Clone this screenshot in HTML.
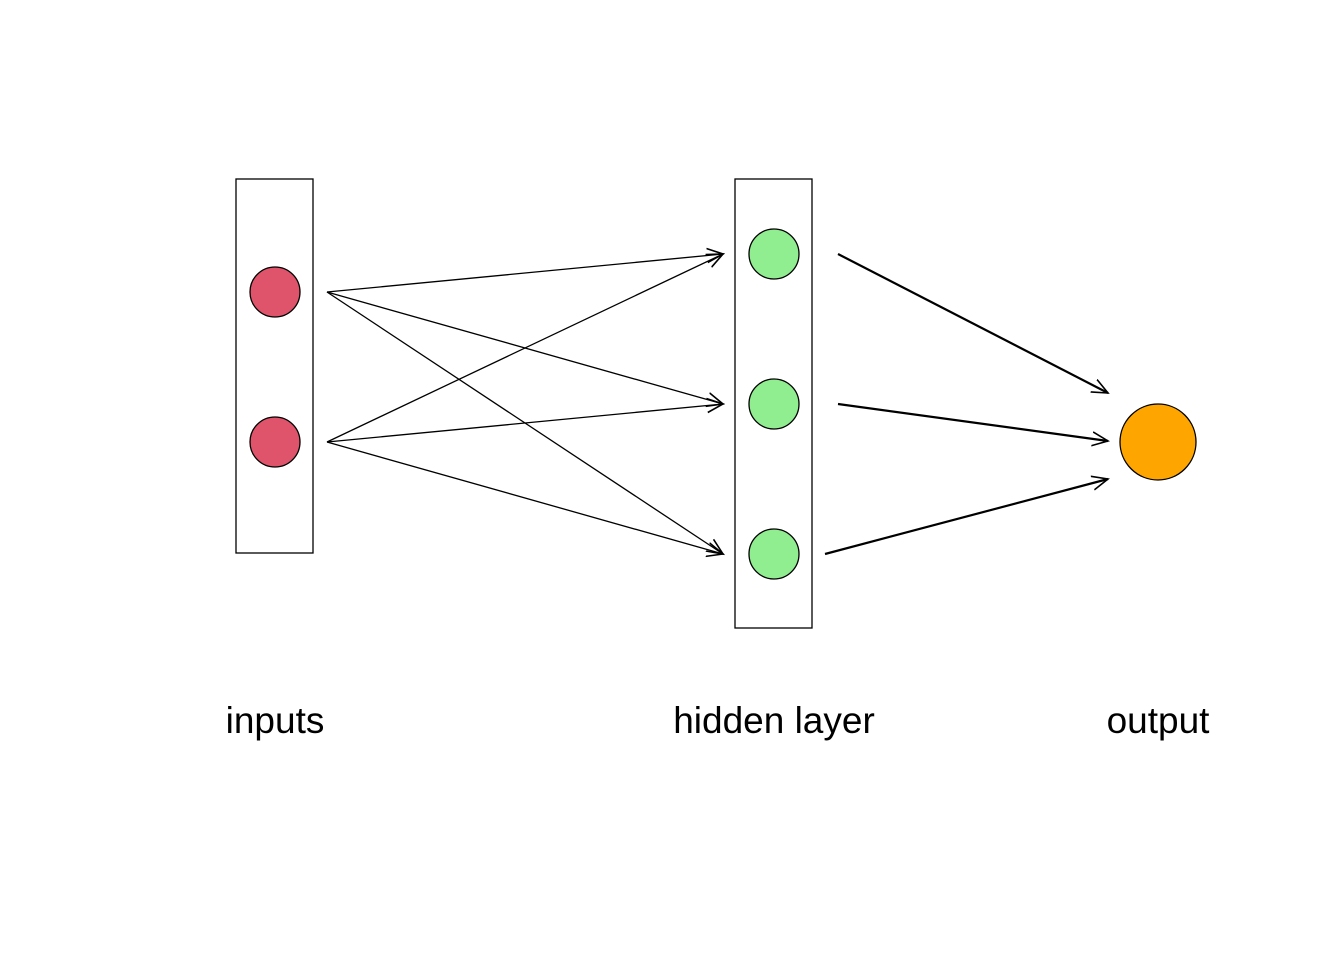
<!DOCTYPE html>
<html><head><meta charset="utf-8"><style>
html,body{margin:0;padding:0;background:#fff;}
svg{display:block;}
text{font-family:"Liberation Sans",sans-serif;font-size:37px;fill:#000;}
</style></head><body>
<svg width="1344" height="960" viewBox="0 0 1344 960" xmlns="http://www.w3.org/2000/svg">
<defs>
<marker id="a" markerWidth="20" markerHeight="20" refX="16" refY="8" orient="auto" markerUnits="userSpaceOnUse">
<path d="M0,1 L16,8 L0,15" fill="none" stroke="#000" stroke-width="1.6"/>
</marker>
</defs>
<rect x="236" y="179" width="77" height="374" fill="none" stroke="#000" stroke-width="1.3"/>
<rect x="735" y="179" width="77" height="449" fill="none" stroke="#000" stroke-width="1.3"/>
<g stroke="#000" stroke-width="1.3" fill="none" marker-end="url(#a)">
<line x1="327" y1="292" x2="723" y2="254"/>
<line x1="327" y1="292" x2="723" y2="404"/>
<line x1="327" y1="292" x2="723" y2="554"/>
<line x1="327" y1="442" x2="723" y2="254"/>
<line x1="327" y1="442" x2="723" y2="404"/>
<line x1="327" y1="442" x2="723" y2="554"/>
</g>
<g stroke="#000" stroke-width="2.2" fill="none" marker-end="url(#a)">
<line x1="838" y1="254" x2="1108" y2="393"/>
<line x1="838" y1="404" x2="1108" y2="441"/>
<line x1="825" y1="554" x2="1108" y2="479"/>
</g>
<g stroke="#000" stroke-width="1.3">
<circle cx="275" cy="292" r="25" fill="#DF536B"/>
<circle cx="275" cy="442" r="25" fill="#DF536B"/>
<circle cx="774" cy="254" r="25" fill="#90EE90"/>
<circle cx="774" cy="404" r="25" fill="#90EE90"/>
<circle cx="774" cy="554" r="25" fill="#90EE90"/>
<circle cx="1158" cy="442" r="38" fill="#FFA500"/>
</g>
<text x="275" y="733" text-anchor="middle">inputs</text>
<text x="774" y="733" text-anchor="middle">hidden layer</text>
<text x="1158" y="733" text-anchor="middle">output</text>
</svg>
</body></html>
